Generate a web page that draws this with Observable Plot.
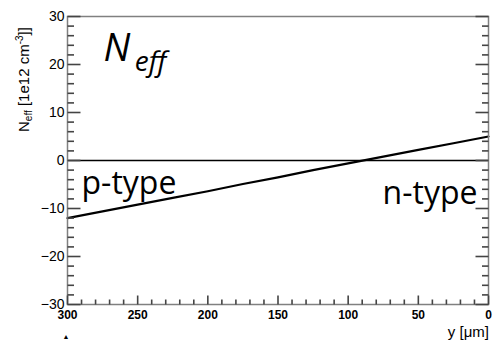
<!DOCTYPE html>
<html>
<head>
<meta charset="utf-8">
<script src="https://cdn.jsdelivr.net/npm/d3@7"></script>
<script src="https://cdn.jsdelivr.net/npm/@observablehq/plot@0.6"></script>
<style>
  html, body { margin: 0; padding: 0; background: #fff; }
  #chart { width: 495px; height: 342px; }
</style>
</head>
<body>
<div id="chart"></div>
<script>
// Data
const depth = [300, 275, 250, 225, 200, 175, 150, 125, 100, 75, 50, 25, 0];
const neff  = [-12.0, -10.6, -9.2, -7.8, -6.4, -4.9, -3.5, -2.0, -0.6, 0.8, 2.2, 3.6, 5.0];
const xTickLabels = [300, 250, 200, 150, 100, 50, 0];
const yTickLabels = [-30, -20, -10, 0, 10, 20, 30];
const annotations = ["p-type", "n-type"];

const data = depth.map((d, i) => ({x: d, y: neff[i]}));
const xMinor = d3.range(0, 301, 10).filter(v => !xTickLabels.includes(v));
const yMinor = d3.range(-30, 31, 2).filter(v => !yTickLabels.includes(v));

const W = 495, H = 342;
const mL = 67, mR = 7, mT = 16, mB = 38;
const pxX = 300 / (W - mL - mR);   // data units per pixel (x)
const pxY = 60 / (H - mT - mB);    // data units per pixel (y)

// tick segments (lengths expressed in data units)
const yTicks = [
  ...yTickLabels.map(v => ({y: v, a: 300, b: 300 - 13 * pxX})),
  ...yMinor.map(v => ({y: v, a: 300, b: 300 - 6.5 * pxX})),
  ...yTickLabels.map(v => ({y: v, a: 0, b: 13 * pxX})),
  ...yMinor.map(v => ({y: v, a: 0, b: 6.5 * pxX}))
];
const xTicks = [
  ...xTickLabels.map(v => ({x: v, a: -30, b: -30 + 9 * pxY})),
  ...xMinor.map(v => ({x: v, a: -30, b: -30 + 5 * pxY}))
];

const plot = Plot.plot({
  width: W,
  height: H,
  marginLeft: mL,
  marginRight: mR,
  marginTop: mT,
  marginBottom: mB,
  style: {fontFamily: "'Liberation Sans', Arial, Helvetica, sans-serif", background: "#fff", color: "#000"},
  x: {domain: [300, 0]},
  y: {domain: [-30, 30]},
  marks: [
    Plot.axisY(yTickLabels, {tickSize: 0, tickPadding: 3, fontSize: 14, label: null, tickFormat: d => d < 0 ? "\u2212" + Math.abs(d) : String(d)}),
    Plot.axisX(xTickLabels, {tickSize: 0, tickPadding: 6, fontSize: 12, fontWeight: "bold", label: null}),
    // zero line
    Plot.ruleY([0], {stroke: "black", strokeWidth: 1.5}),
    // data line
    Plot.line(data, {x: "x", y: "y", stroke: "black", strokeWidth: 2.2}),
    // annotations
    Plot.text([annotations[0]], {x: 290, y: -6.9, text: d => d, textAnchor: "start", lineAnchor: "bottom", fontSize: 32, fontFamily: "'Open Sans', sans-serif", fill: "black"}),
    Plot.text([annotations[1]], {x: 75.5, y: -8.96, text: d => d, textAnchor: "start", lineAnchor: "bottom", fontSize: 32, fontFamily: "'Open Sans', sans-serif", fill: "black"}),
    Plot.text(["N"], {x: 274.3, y: 20.7, text: d => d, textAnchor: "start", lineAnchor: "bottom", fontSize: 38, fontStyle: "italic", fontFamily: "'Open Sans', sans-serif", fill: "black"}),
    Plot.text(["eff"], {x: 252, y: 18.6, text: d => d, textAnchor: "start", lineAnchor: "bottom", fontSize: 28, fontStyle: "italic", fontFamily: "'Open Sans', sans-serif", fill: "black"}),
    Plot.frame({stroke: "gray", strokeWidth: 1.5}),
    // ticks drawn on top of the frame
    Plot.link(yTicks, {x1: "a", x2: "b", y1: "y", y2: "y", stroke: "#444", strokeWidth: 1.6}),
    Plot.link(xTicks, {x1: "x", x2: "x", y1: "a", y2: "b", stroke: "#444", strokeWidth: 1.6})
  ]
});

const svg = d3.select(plot);
// Y axis label with sub/superscripts
const yl = svg.append("text")
  .attr("transform", "translate(29,132) rotate(-90)")
  .attr("font-size", 15)
  .attr("font-family", "'Liberation Sans', Arial, Helvetica, sans-serif")
  .attr("fill", "black")
  .attr("text-anchor", "start");
yl.append("tspan").text("N");
yl.append("tspan").attr("font-size", 10).attr("dy", 3).text("eff");
yl.append("tspan").attr("dy", -3).text(" [1e12 cm");
yl.append("tspan").attr("font-size", 10).attr("dy", -6).text("-3");
yl.append("tspan").attr("dy", 6).text("]]");

// X axis label
svg.append("text")
  .attr("x", 489).attr("y", 337)
  .attr("font-size", 15)
  .attr("font-family", "'Liberation Sans', Arial, Helvetica, sans-serif")
  .attr("fill", "black")
  .attr("text-anchor", "end")
  .text("y [\u03bcm]");

// small marker below the axis
svg.append("text")
  .attr("x", 66).attr("y", 339)
  .attr("font-size", 7)
  .attr("text-anchor", "middle")
  .attr("fill", "black")
  .text("\u25b2");

document.getElementById("chart").appendChild(plot);
</script>
</body>
</html>
